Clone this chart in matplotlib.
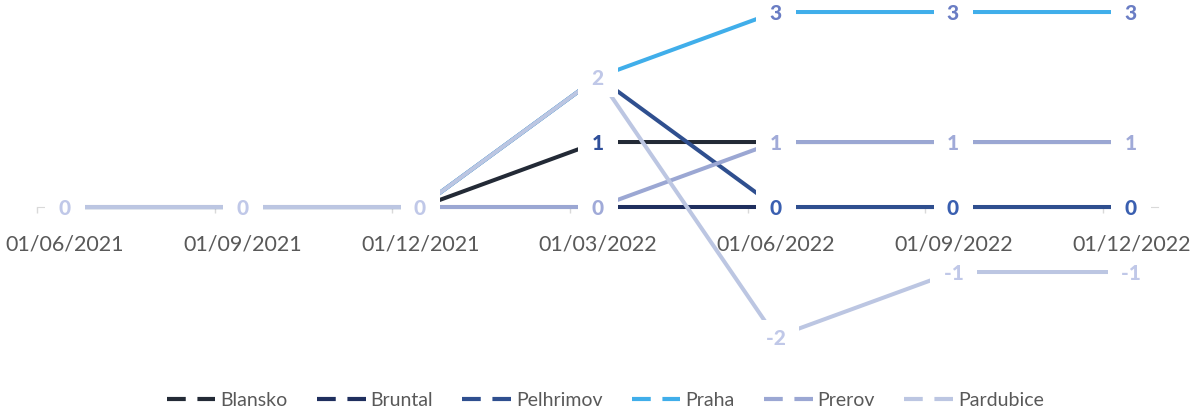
import matplotlib.pyplot as plt
from matplotlib.lines import Line2D

plt.rcParams['font.family'] = ['Lato', 'DejaVu Sans']

dates = ['01/06/2021', '01/09/2021', '01/12/2021', '01/03/2022',
         '01/06/2022', '01/09/2022', '01/12/2022']

names = ['Blansko', 'Bruntal', 'Pelhrimov', 'Praha', 'Prerov', 'Pardubice']
blansko = [0, 0, 0, 1, 1, 1, 1]
bruntal = [0, 0, 0, 0, 0, 0, 0]
pelhrimov = [0, 0, 0, 2, 0, 0, 0]
praha = [0, 0, 0, 2, 3, 3, 3]
prerov = [0, 0, 0, 0, 1, 1, 1]
pardubice = [0, 0, 0, 2, -2, -1, -1]
series = [blansko, bruntal, pelhrimov, praha, prerov, pardubice]

line_colors = ['#232A36', '#1F2F5E', '#2F4F8F', '#40AEEA', '#9BA7D3', '#BCC6E2']
label_colors = ['#2F4F9A', '#1F2F5E', '#3A5FB0', '#6A7DC4', '#A0AAD8', '#C0C8E8']

x = list(range(len(dates)))

fig = plt.figure(figsize=(11.94, 4.13), dpi=100)
ax = fig.add_axes([0, 0, 1, 1])
ax.set_xlim(-0.3658, 6.3534)
ax.set_ylim(-3.169, 3.185)

for i, (name, vals) in enumerate(zip(names, series)):
    ax.plot(x, vals, color=line_colors[i], lw=2.9, solid_capstyle='butt',
            zorder=2 + i * 0.01)

# data labels on white boxes, drawn above every line
for i, vals in enumerate(series):
    for xi, v in zip(x, vals):
        ax.text(xi, v, ' %d ' % v, ha='center', va='center_baseline',
                fontsize=15, fontweight='black', color=label_colors[i],
                bbox=dict(boxstyle='square,pad=0.42', fc='white', ec='none'),
                zorder=5 + i * 0.01)

for s in ['left', 'right', 'top']:
    ax.spines[s].set_visible(False)
ax.spines['bottom'].set_position(('data', 0))
ax.spines['bottom'].set_bounds(-0.158, 6.152)
ax.spines['bottom'].set_color('#D9D9D9')
ax.spines['bottom'].set_zorder(1)
ax.set_yticks([])

ax.set_xticks(x)
ax.set_xticklabels(dates)
ax.tick_params(axis='x', which='major', length=0, pad=20,
               labelsize=15.5, labelcolor='#595959')
ax.set_xticks([xi - 0.158 for xi in x], minor=True)
ax.tick_params(axis='x', which='minor', length=4, width=1, color='#D9D9D9')

handles = [Line2D([], [], color=c, lw=3, linestyle=(0, (4.5, 2.8)))
           for c in line_colors]
fig.legend(handles, names, loc='center', bbox_to_anchor=(0.507, 0.03),
           ncol=6, frameon=False, fontsize=14, labelcolor='#595959',
           handlelength=2.5, handletextpad=0.26, columnspacing=1.5)

fig.savefig('out.png', dpi=100)
